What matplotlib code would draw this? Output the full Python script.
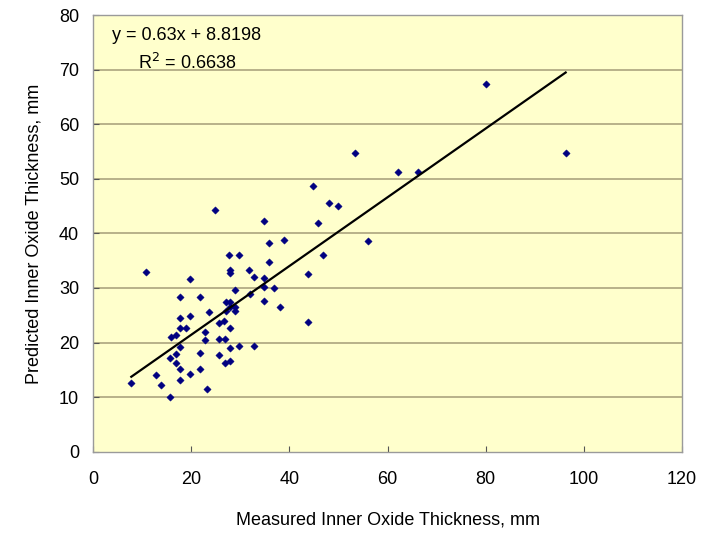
import matplotlib.pyplot as plt
import numpy as np

plt.rcParams['font.family'] = ['Liberation Sans', 'DejaVu Sans']

# measured vs predicted inner oxide thickness
measured = [7.8, 10.8, 12.8, 13.9, 15.7, 15.6, 15.9, 16.9, 16.9, 16.9,
            17.7, 17.7, 17.7, 17.7, 17.7, 17.7, 18.9, 19.7, 19.7, 19.7,
            21.8, 21.8, 21.8, 22.9, 22.9, 23.3, 23.7, 24.8, 25.7, 26.6,
            25.7, 26.9, 27.9, 29.8, 32.9, 25.7, 26.9, 27.9, 27.9, 27.1,
            29.0, 27.9, 29.0, 27.1, 27.9, 29.0, 27.8, 29.8, 27.9, 27.9,
            31.8, 32.9, 34.9, 34.9, 36.9, 32.0, 34.8, 38.0, 35.8, 39.0,
            35.8, 34.9, 43.9, 43.9, 44.9, 45.9, 46.9, 48.0, 49.9, 53.3,
            56.0, 62.1, 66.2, 80.1, 96.3]
predicted = [12.6, 32.9, 14.1, 12.2, 10.1, 17.2, 21.0, 21.3, 17.9, 16.3,
             19.1, 15.2, 13.2, 22.7, 24.5, 28.3, 22.7, 31.7, 24.8, 14.3,
             18.1, 15.2, 28.3, 21.9, 20.5, 11.4, 25.6, 44.3, 23.6, 24.0,
             20.7, 20.7, 19.0, 19.3, 19.4, 17.7, 16.3, 16.6, 22.7, 25.7,
             25.7, 26.6, 26.6, 27.4, 27.4, 29.7, 36.1, 36.1, 33.3, 32.7,
             33.3, 32.0, 31.8, 30.1, 30.0, 28.9, 27.6, 26.5, 38.2, 38.8,
             34.7, 42.3, 32.5, 23.7, 48.6, 42.0, 36.1, 45.6, 45.0, 54.7,
             38.6, 51.2, 51.2, 67.3, 54.7]

slope = 0.63
intercept = 8.8198
r2 = 0.6638

x_ticks = [0, 20, 40, 60, 80, 100, 120]
y_ticks = [0, 10, 20, 30, 40, 50, 60, 70, 80]

fig = plt.figure(figsize=(7.02, 5.35), dpi=100)
ax = fig.add_axes([0.1325, 0.1557, 0.839, 0.816])
ax.set_facecolor("#ffffcc")

for yv in y_ticks[1:-1]:
    ax.axhline(yv, color="#aba47f", lw=1.2, zorder=1)

ax.scatter(measured, predicted, marker="D", s=14, color="#000080",
           edgecolors="#000080", linewidths=0.3, zorder=3)

xl = np.array([min(measured), max(measured)])
ax.plot(xl, slope * xl + intercept, color="black", lw=1.6, zorder=4)

ax.text(3.8, 76.3, "y = 0.63x + 8.8198", fontsize=13, va="center")
ax.text(9.2, 71.2, "R$^2$ = %.4f" % r2, fontsize=13, va="center")

ax.set_xlim(0, 120)
ax.set_ylim(0, 80)
ax.set_xticks(x_ticks)
ax.set_yticks(y_ticks)
ax.tick_params(direction="in", length=4, labelsize=13, color="#555555")
ax.tick_params(axis="x", pad=14)
ax.tick_params(axis="y", pad=10)
for s in ax.spines.values():
    s.set_color("#9a9a9a")
    s.set_linewidth(1.0)

ax.set_xlabel("Measured Inner Oxide Thickness, mm", fontsize=13, labelpad=17)
ax.set_ylabel("Predicted Inner Oxide Thickness, mm", fontsize=13, labelpad=12)

fig.savefig("out.png", dpi=100)
